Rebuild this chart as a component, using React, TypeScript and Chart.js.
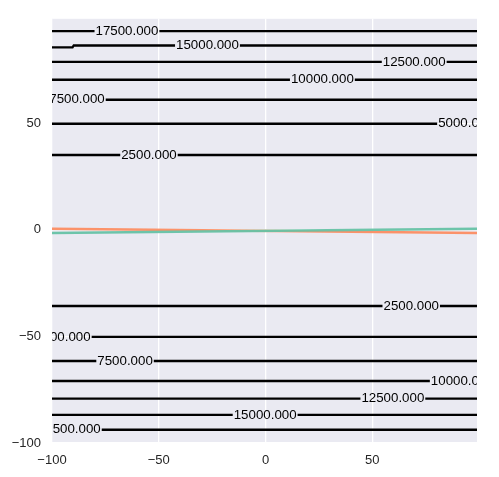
import { useEffect, useRef } from "react";
import { Chart, registerables } from "chart.js";

Chart.register(...registerables);

// ---- data ----
const xTicks = [-100, -50, 0, 50];
const yTicks = [-100, -50, 0, 50];
const xRange = [-100, 99];
const yRange = [-100, 99];

const contourLevels = [2500, 5000, 7500, 10000, 12500, 15000, 17500];
// y position of each contour (upper branch / lower branch)
const contourYUpper = [35.1, 49.8, 61.0, 70.4, 78.8, 86.5, 93.2];
const contourYLower = [-35.7, -50.2, -61.5, -70.9, -79.2, -86.8, -93.8];
// x position (centre) of each inline contour label
const labelXUpper = [-54.6, 93.8, -88.3, 26.6, 69.6, -27.2, -64.9];
const labelXLower = [68.2, -94.9, -65.8, 92.1, 59.6, -0.2, -91.9];
// small step on the upper 15000 contour near the left edge
const jogX = [-100, -90.4, -89.8, 99];
const jogY = [85.6, 85.6, 86.5, 86.5];

// the two coloured lines
const lineX = [-100, 99];
const greenY = [-1.5, 0.5];
const orangeY = [0.5, -1.5];

const FONT = "'Liberation Sans', Arial, sans-serif";
const BG = "#EAEAF2";

const fmtMinus = (v: number) => String(v).replace("-", "\u2212");

export default function App() {
  const ref = useRef<HTMLCanvasElement | null>(null);

  useEffect(() => {
    document.body.style.margin = "0";
    document.body.style.overflow = "hidden";
    const canvas = ref.current;
    if (!canvas) return;

    type Lbl = { x: number; y: number; text: string };
    const datasets: any[] = [];

    const addContour = (pts: { x: number; y: number }[], lbl: Lbl) => {
      datasets.push({
        data: pts,
        showLine: true,
        borderColor: "#000000",
        borderWidth: 2.4,
        pointRadius: 0,
        pointHoverRadius: 0,
        tension: 0,
        fill: false,
        contourLabel: lbl,
      });
    };

    contourLevels.forEach((lev, i) => {
      const text = lev.toFixed(3);
      const yu = contourYUpper[i];
      let upPts = [
        { x: xRange[0], y: yu },
        { x: xRange[1], y: yu },
      ];
      if (lev === 15000) {
        upPts = jogX.map((x, k) => ({ x, y: jogY[k] }));
      }
      addContour(upPts, { x: labelXUpper[i], y: yu, text });
      const yl = contourYLower[i];
      addContour(
        [
          { x: xRange[0], y: yl },
          { x: xRange[1], y: yl },
        ],
        { x: labelXLower[i], y: yl, text }
      );
    });

    datasets.push({
      data: lineX.map((x, k) => ({ x, y: greenY[k] })),
      showLine: true,
      borderColor: "rgba(102,194,165,0.95)",
      borderWidth: 2.6,
      pointRadius: 0,
      tension: 0,
    });
    datasets.push({
      data: lineX.map((x, k) => ({ x, y: orangeY[k] })),
      showLine: true,
      borderColor: "rgba(252,141,98,0.95)",
      borderWidth: 2.6,
      pointRadius: 0,
      tension: 0,
    });

    const labelFont = `13.3px ${FONT}`;

    const bgPlugin = {
      id: "bgPlugin",
      beforeDraw(chart: any) {
        const { ctx, chartArea } = chart;
        ctx.save();
        ctx.fillStyle = BG;
        ctx.fillRect(
          chartArea.left,
          chartArea.top,
          chartArea.right - chartArea.left,
          chartArea.bottom - chartArea.top
        );
        ctx.restore();
      },
    };

    const labelRect = (chart: any, lbl: Lbl) => {
      const ctx = chart.ctx;
      ctx.save();
      ctx.font = labelFont;
      const w = ctx.measureText(lbl.text).width;
      ctx.restore();
      const cx = chart.scales.x.getPixelForValue(lbl.x);
      const cy = chart.scales.y.getPixelForValue(lbl.y);
      return { cx, cy, w };
    };

    const contourPlugin = {
      id: "contourPlugin",
      beforeDatasetDraw(chart: any, args: any) {
        const ds = chart.data.datasets[args.index];
        if (!ds.contourLabel) return;
        const ctx = chart.ctx;
        const { cx, cy, w } = labelRect(chart, ds.contourLabel);
        ctx.save();
        ctx.beginPath();
        ctx.rect(0, 0, chart.width, chart.height);
        ctx.rect(cx - w / 2 - 1, cy - 6, w + 2, 12);
        ctx.clip("evenodd");
      },
      afterDatasetDraw(chart: any, args: any) {
        const ds = chart.data.datasets[args.index];
        if (!ds.contourLabel) return;
        chart.ctx.restore();
      },
      afterDatasetsDraw(chart: any) {
        const { ctx, chartArea } = chart;
        ctx.save();
        ctx.beginPath();
        ctx.rect(
          chartArea.left,
          chartArea.top,
          chartArea.right - chartArea.left,
          chartArea.bottom - chartArea.top
        );
        ctx.clip();
        ctx.font = labelFont;
        ctx.fillStyle = "#000000";
        ctx.textAlign = "center";
        ctx.textBaseline = "middle";
        chart.data.datasets.forEach((ds: any) => {
          if (!ds.contourLabel) return;
          const { cx, cy } = labelRect(chart, ds.contourLabel);
          ctx.fillText(ds.contourLabel.text, cx, cy);
        });
        ctx.restore();
      },
    };

    const chart = new Chart(canvas, {
      type: "scatter",
      data: { datasets },
      plugins: [bgPlugin, contourPlugin],
      options: {
        animation: false,
        responsive: false,
        events: [],
        layout: { padding: { top: 17, right: 22, left: 0, bottom: 0 } },
        plugins: {
          legend: { display: false },
          tooltip: { enabled: false },
          title: { display: false },
        },
        scales: {
          x: {
            type: "linear",
            min: xRange[0],
            max: xRange[1],
            afterBuildTicks: (s: any) => {
              s.ticks = xTicks.map((v) => ({ value: v }));
            },
            afterFit: (s: any) => {
              s.height = 34;
            },
            border: { display: false },
            grid: { color: "#ffffff", lineWidth: 1.3, drawTicks: false },
            ticks: {
              padding: 10,
              color: "#262626",
              font: { family: FONT, size: 13 },
              callback: (v: any) => fmtMinus(Number(v)),
            },
          },
          y: {
            type: "linear",
            min: yRange[0],
            max: yRange[1],
            afterBuildTicks: (s: any) => {
              s.ticks = yTicks.map((v) => ({ value: v }));
            },
            afterFit: (s: any) => {
              s.width = 52;
            },
            border: { display: false },
            grid: { color: "#ffffff", lineWidth: 1.3, drawTicks: false },
            ticks: {
              padding: 11,
              color: "#262626",
              font: { family: FONT, size: 13 },
              callback: (v: any) => fmtMinus(Number(v)),
            },
          },
        },
      } as any,
    });

    return () => chart.destroy();
  }, []);

  return (
    <div style={{ width: 499, height: 477 }}>
      <canvas ref={ref} width={499} height={477} style={{ display: "block" }} />
    </div>
  );
}
